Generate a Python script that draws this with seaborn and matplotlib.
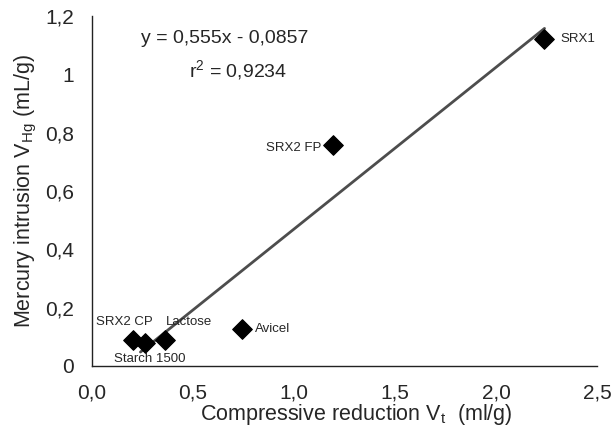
import matplotlib
matplotlib.use("Agg")
import matplotlib.pyplot as plt
import seaborn as sns
import numpy as np
import pandas as pd

names = ["SRX1", "SRX2 FP", "Avicel", "Lactose", "SRX2 CP", "Starch 1500"]
vt = [2.235, 1.195, 0.745, 0.36, 0.205, 0.262]
vhg = [1.122, 0.757, 0.127, 0.089, 0.089, 0.077]
slope, intercept = 0.555, -0.0857
fit_range = [0.24, 2.24]
xticks = [0.0, 0.5, 1.0, 1.5, 2.0, 2.5]
xticklabels = ["0,0", "0,5", "1,0", "1,5", "2,0", "2,5"]
yticks = [0, 0.2, 0.4, 0.6, 0.8, 1.0, 1.2]
yticklabels = ["0", "0,2", "0,4", "0,6", "0,8", "1", "1,2"]
label_offsets = {"SRX1": (12, 0, "left"), "SRX2 FP": (-9, -2, "right"),
                 "Avicel": (9, 0, "left"), "Lactose": (1, 13, "left"),
                 "SRX2 CP": (-27, 13, "left"), "Starch 1500": (-22, -11, "left")}

sns.set_style("white")
plt.rcParams['font.family'] = ['Liberation Sans', 'DejaVu Sans']
plt.rcParams['mathtext.fontset'] = 'custom'
plt.rcParams['mathtext.rm'] = 'Liberation Sans'
plt.rcParams['mathtext.it'] = 'Liberation Sans'

fig = plt.figure(figsize=(6.13, 4.33), dpi=100)
ax = fig.add_axes([0.150, 0.155, 0.824, 0.808])

df = pd.DataFrame({"vt": vt, "vhg": vhg, "name": names})
xf = np.array(fit_range)
fit = pd.DataFrame({"x": xf, "y": slope * xf + intercept})
sns.lineplot(data=fit, x="x", y="y", ax=ax, color="#4d4d4d", lw=2.0)
sns.scatterplot(data=df, x="vt", y="vhg", ax=ax, marker="D", s=100,
                color="black", edgecolor="black", zorder=3)

for n, x, y in zip(names, vt, vhg):
    dx, dy, ha = label_offsets[n]
    ax.annotate(n, (x, y), xytext=(dx, dy), textcoords="offset points",
                ha=ha, va="center", fontsize=9.5)

ax.text(0.263, 0.937, "y = 0,555x - 0,0857", transform=ax.transAxes,
        ha="center", va="center", fontsize=14)
ax.text(0.29, 0.846, "r$^2$ = 0,9234", transform=ax.transAxes,
        ha="center", va="center", fontsize=14)

ax.set_xlim(0, 2.5)
ax.set_ylim(0, 1.2)
ax.set_xticks(xticks)
ax.set_xticklabels(xticklabels)
ax.set_yticks(yticks)
ax.set_yticklabels(yticklabels)
ax.tick_params(direction="inout", length=10, width=1, color="#222222",
               labelsize=15, pad=8)
for s in ["top", "right"]:
    ax.spines[s].set_visible(False)
for s in ["left", "bottom"]:
    ax.spines[s].set_color("#222222")
    ax.spines[s].set_linewidth(1)
ax.set_xlabel("Compressive reduction V$_\\mathregular{t}$  (ml/g)", fontsize=15.5)
ax.xaxis.set_label_coords(0.523, -0.102, transform=ax.transAxes)
ax.set_ylabel("Mercury intrusion V$_\\mathregular{Hg}$ (mL/g)", fontsize=15.5, labelpad=4)

fig.savefig("out.png", dpi=100)
